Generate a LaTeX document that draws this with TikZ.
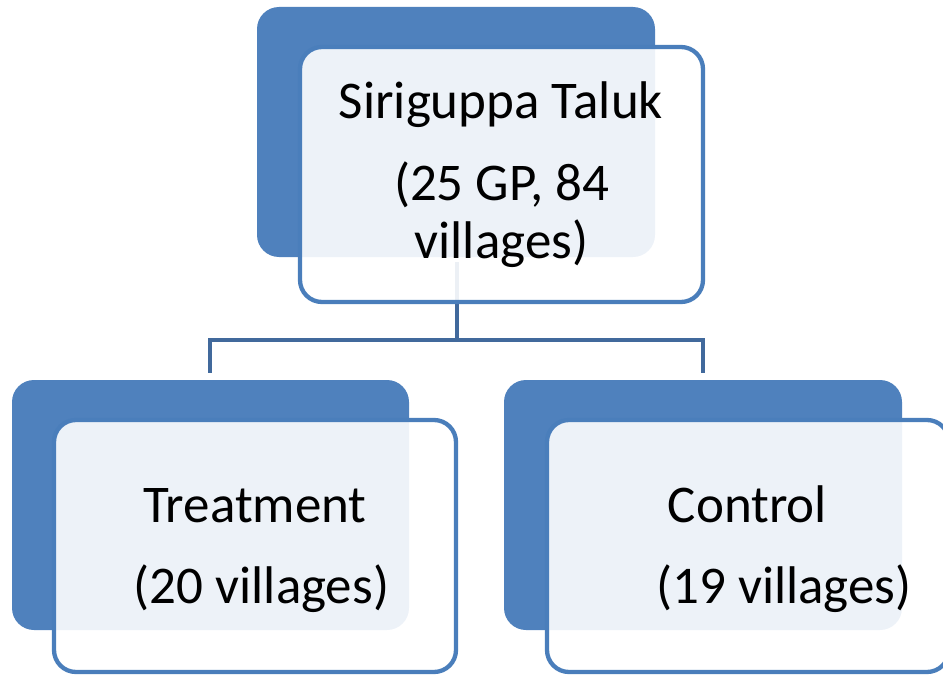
\documentclass[tikz,border=0pt]{standalone}
\usepackage{fontspec}
\setmainfont{Carlito}
\definecolor{backblue}{HTML}{4F81BD}
\definecolor{frontline}{HTML}{4A7EBB}
\definecolor{connblue}{HTML}{41699C}
\begin{document}
\begin{tikzpicture}[x=1pt,y=-1pt,
  backbox/.style={rectangle, rounded corners=22pt, fill=backblue, draw=none, inner sep=0pt, outer sep=0pt},
  frontbox/.style={rectangle, rounded corners=22pt, draw=frontline, line width=4.3pt, fill=white, fill opacity=0.9, inner sep=0pt, outer sep=0pt},
  conn/.style={draw=connblue, line width=4pt},
  lbl/.style={anchor=base, inner sep=0pt, font=\fontsize{53}{64}\selectfont, text=black, text opacity=1}
]
\useasboundingbox (0,0) rectangle (943,677);
% connectors (behind boxes)
\coordinate (hub) at (456.5,340);
\coordinate (tconn) at (456.5,262);
\coordinate (lend) at (210,373);
\coordinate (rend) at (702.5,373);
\draw[conn] (tconn) -- (hub);
\draw[conn] (hub) -| (lend);
\draw[conn] (hub) -| (rend);
% back boxes
\node[backbox, minimum width=398pt, minimum height=250pt] (tback) at (456,132) {};
\node[backbox, minimum width=397pt, minimum height=250pt] (lback) at (210.5,505) {};
\node[backbox, minimum width=398pt, minimum height=250pt] (rback) at (703,505) {};
% front boxes
\node[frontbox, minimum width=403pt, minimum height=255pt] (tfront) at (501.5,174.5) {};
\node[frontbox, minimum width=402pt, minimum height=252pt] (lfront) at (255,546) {};
\node[frontbox, minimum width=402pt, minimum height=252pt] (rfront) at (748,546) {};
% labels
\node[lbl] (t1) at (501,118) {Siriguppa Taluk};
\node[lbl] (t2) at (501.5,200) {(25 GP, 84};
\node[lbl] (t3) at (501.5,258) {villages)};
\node[lbl] (l1) at (255,522) {Treatment};
\node[lbl] (l2) at (261.5,603) {(20 villages)};
\node[lbl] (r1) at (747.5,522) {Control};
\node[lbl] (r2) at (784,603) {(19 villages)};
\end{tikzpicture}
\end{document}
